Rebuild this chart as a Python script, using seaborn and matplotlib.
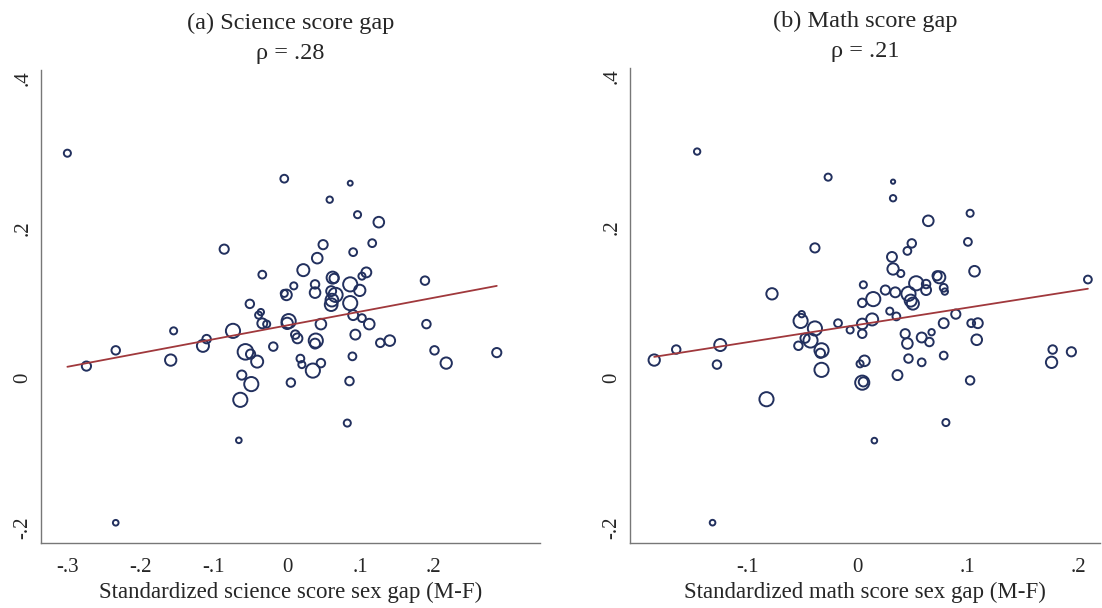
import numpy as np
import pandas as pd
import matplotlib
matplotlib.use("Agg")
import matplotlib.pyplot as plt
import seaborn as sns

# Panel (a): science score gap vs outcome, with marker weight
sci_x = [-0.300, -0.004, 0.086, 0.058, 0.096, 0.125, -0.086, 0.049, 0.116, 0.090,
         0.041, -0.034, 0.022, 0.062, 0.064, 0.108, 0.102, 0.188, 0.009, 0.038,
         0.086, -0.004, -0.001, 0.038, 0.060, 0.099, 0.066, 0.061, 0.060, 0.086,
         -0.051, -0.036, -0.039, -0.034, -0.028, 0.002, 0.000, 0.046, 0.090, 0.102,
         0.112, 0.190, -0.074, -0.155, -0.110, -0.115, -0.234, -0.274, -0.159, -0.057,
         -0.050, -0.041, -0.019, 0.011, 0.014, 0.039, 0.038, 0.093, 0.127, 0.140,
         0.201, 0.217, 0.286, 0.018, 0.020, 0.046, 0.035, 0.089, -0.062, -0.049,
         0.005, 0.085, -0.064, 0.082, -0.066, -0.234]
sci_y = [0.300, 0.266, 0.260, 0.238, 0.218, 0.208, 0.172, 0.178, 0.180, 0.168,
         0.160, 0.138, 0.144, 0.134, 0.133, 0.141, 0.136, 0.130, 0.123, 0.125,
         0.125, 0.113, 0.111, 0.114, 0.116, 0.117, 0.111, 0.104, 0.098, 0.100,
         0.099, 0.088, 0.084, 0.073, 0.072, 0.076, 0.073, 0.072, 0.084, 0.080,
         0.072, 0.072, 0.063, 0.063, 0.052, 0.043, 0.037, 0.016, 0.024, 0.035,
         0.032, 0.022, 0.042, 0.058, 0.053, 0.050, 0.046, 0.058, 0.047, 0.050,
         0.037, 0.020, 0.034, 0.026, 0.018, 0.020, 0.010, 0.029, 0.004, -0.008,
         -0.006, -0.004, -0.029, -0.060, -0.083, -0.193]
sci_w = [10, 11, 7, 9, 10, 15, 13, 13, 11, 11,
         15, 11, 17, 17, 13, 14, 10, 12, 10, 12,
         20, 10, 15, 15, 14, 16, 20, 18, 18, 20,
         12, 9, 10, 14, 10, 20, 16, 15, 14, 11,
         15, 12, 20, 10, 12, 17, 12, 13, 16, 22,
         13, 17, 12, 12, 14, 20, 14, 14, 12, 15,
         12, 16, 13, 11, 10, 12, 20, 11, 13, 20,
         12, 12, 20, 10, 8, 8]

# Panel (b): math score gap
math_x = [-0.146, -0.027, 0.032, 0.032, 0.102, 0.064, -0.039, 0.049, 0.100, 0.045,
          0.031, 0.039, 0.032, 0.074, 0.072, 0.106, 0.078, 0.209, 0.005, 0.025,
          0.053, 0.062, 0.062, 0.034, 0.046, 0.079, 0.014, 0.048, 0.050, -0.078,
          0.004, 0.029, 0.035, 0.089, -0.051, -0.052, -0.018, 0.013, 0.004, 0.078,
          0.103, 0.109, -0.039, -0.007, 0.004, 0.043, 0.058, 0.067, 0.065, 0.108,
          0.045, -0.048, -0.043, -0.054, -0.033, -0.034, -0.125, -0.165, -0.185, -0.128,
          -0.033, 0.006, 0.002, 0.046, 0.058, 0.078, 0.177, 0.194, 0.176, 0.036,
          0.004, 0.005, 0.102, -0.083, 0.080, 0.015, -0.132]
math_y = [0.300, 0.266, 0.260, 0.238, 0.218, 0.208, 0.172, 0.178, 0.180, 0.168,
          0.160, 0.138, 0.144, 0.133, 0.135, 0.141, 0.119, 0.130, 0.123, 0.116,
          0.125, 0.124, 0.116, 0.113, 0.111, 0.114, 0.104, 0.102, 0.098, 0.111,
          0.099, 0.088, 0.081, 0.084, 0.084, 0.075, 0.072, 0.077, 0.071, 0.072,
          0.072, 0.072, 0.065, 0.063, 0.058, 0.058, 0.053, 0.060, 0.047, 0.050,
          0.045, 0.052, 0.049, 0.042, 0.036, 0.032, 0.043, 0.037, 0.023, 0.017,
          0.010, 0.022, 0.018, 0.025, 0.020, 0.029, 0.037, 0.034, 0.020, 0.003,
          -0.007, -0.006, -0.004, -0.029, -0.060, -0.084, -0.193]
math_w = [9, 10, 6, 9, 10, 15, 13, 12, 11, 11,
          14, 10, 16, 17, 13, 15, 11, 11, 10, 13,
          20, 12, 14, 14, 20, 9, 20, 17, 17, 16,
          12, 10, 11, 13, 9, 20, 11, 17, 15, 14,
          11, 14, 20, 10, 12, 13, 14, 9, 12, 15,
          15, 13, 20, 12, 20, 13, 17, 12, 16, 12,
          20, 15, 10, 12, 11, 11, 12, 13, 16, 14,
          20, 13, 12, 20, 10, 8, 8]

panels = [
    ("(a) Science score gap\nρ = .28", "Standardized science score sex gap (M-F)",
     sci_x, sci_y, sci_w, [-0.3, -0.2, -0.1, 0, 0.1, 0.2],
     ["-.3", "-.2", "-.1", "0", ".1", ".2"], (-0.336, 0.345)),
    ("(b) Math score gap\nρ = .21", "Standardized math score sex gap (M-F)",
     math_x, math_y, math_w, [-0.1, 0, 0.1, 0.2],
     ["-.1", "0", ".1", ".2"], (-0.207, 0.22)),
]
yticks = [-0.2, 0, 0.2, 0.4]
ylabels = ["-.2", "0", ".2", ".4"]

navy = "#22305e"
maroon = "#a0383c"

sns.set_style("white")
plt.rcParams["font.family"] = ["Liberation Serif", "DejaVu Serif"]

fig = plt.figure(figsize=(11.02, 6.08), dpi=100)
W, H = 1102, 608
boxes = [(41, 70, 540, 543), (630, 68, 1100, 543)]

for (title, xlabel, xs, ys, ws, xt, xtl, xlim), (l, t, r, b) in zip(panels, boxes):
    ax = fig.add_axes([l / W, (H - b) / H, (r - l) / W, (b - t) / H])
    df = pd.DataFrame({"x": xs, "y": ys, "w": np.array(ws, float) ** 2})

    sns.scatterplot(data=df, x="x", y="y", size="w",
                    sizes=(0.26 * df.w.min(), 0.26 * df.w.max()),
                    facecolor="none", edgecolor=navy, linewidth=1.4,
                    legend=False, ax=ax)

    # weighted linear fit
    b1, b0 = np.polyfit(df.x, df.y, 1, w=df.w ** 0.75)
    xx = np.array([df.x.min(), df.x.max()])
    sns.lineplot(x=xx, y=b0 + b1 * xx, color=maroon, linewidth=1.3, ax=ax)

    ax.set_xlim(*xlim)
    ax.set_ylim(-0.22, 0.411)
    ax.set_xticks(xt)
    ax.set_xticklabels(xtl, fontsize=15)
    ax.set_yticks(yticks)
    ax.set_yticklabels(ylabels, fontsize=15, rotation=90, va="center")
    ax.tick_params(axis="x", length=0, pad=11)
    ax.tick_params(axis="y", length=0, pad=6)
    ax.set_xlabel(xlabel, fontsize=16.5, labelpad=3)
    ax.set_ylabel("")
    ax.set_title(title, fontsize=17.5, pad=8, linespacing=1.55)
    for side in ["top", "right"]:
        ax.spines[side].set_visible(False)
    for side in ["left", "bottom"]:
        ax.spines[side].set_color("#777777")
        ax.spines[side].set_linewidth(1.0)

fig.savefig("out.png", dpi=100)
